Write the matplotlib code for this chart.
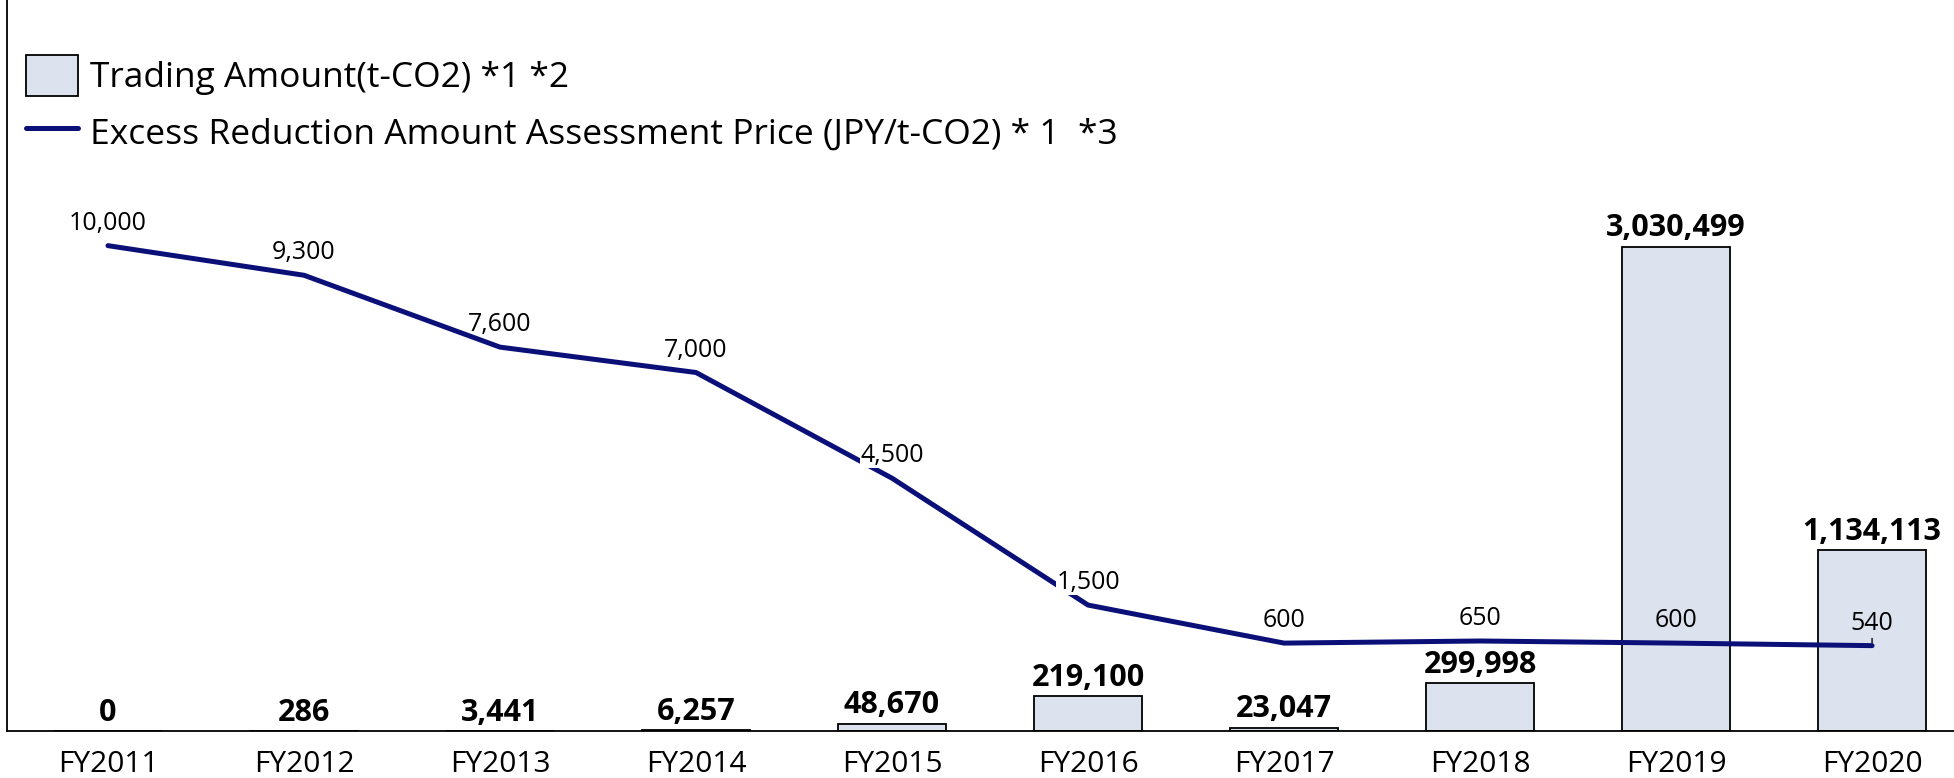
import matplotlib.pyplot as plt
import numpy as np

plt.rcParams['font.family'] = ['Open Sans', 'DejaVu Sans']

years = ["FY2011", "FY2012", "FY2013", "FY2014", "FY2015",
         "FY2016", "FY2017", "FY2018", "FY2019", "FY2020"]
trading = [0, 286, 3441, 6257, 48670, 219100, 23047, 299998, 3030499, 1134113]
price = [10000, 9300, 7600, 7000, 4500, 1500, 600, 650, 600, 540]

bar_color = "#dde3ee"
line_color = "#0b1078"

fig = plt.figure(figsize=(19.54, 7.78), dpi=100)
ax = fig.add_axes([0.0038, 0.0598, 0.9962, 0.9402])
x = np.arange(len(years))

bars = ax.bar(x, trading, width=0.555, color=bar_color, edgecolor="black", lw=1.3,
              label="Trading Amount(t-CO2) *1 *2", zorder=2)
ax.set_ylim(0, 4.573e6)
ax.set_xlim(-0.513, 9.418)
for xi, v in zip(x, trading):
    ax.annotate(f"{v:,}", (xi, v), xytext=(0, 7.5), textcoords="offset points",
                ha="center", va="baseline", fontsize=22, fontweight="bold")

ax2 = ax.twinx()
ax2.set_ylim(-1490, 15810)
ln, = ax2.plot(x, price, color=line_color, lw=3.6, solid_capstyle="round",
               label="Excess Reduction Amount Assessment Price (JPY/t-CO2) * 1  *3")
# labels on the steep part of the line knock out the line behind them
steep = {4, 5}
for i, (xi, v) in enumerate(zip(x, price)):
    kw = dict(xytext=(0, 11.5), textcoords="offset points",
              ha="center", va="baseline", fontsize=18)
    if i == len(price) - 1:
        kw["arrowprops"] = dict(arrowstyle="-", lw=1, color="black",
                                shrinkA=0, shrinkB=2)
    elif i in steep:
        kw["bbox"] = dict(fc="white", ec="none", pad=0)
    ax2.annotate(f"{v:,}", (xi, v), **kw)

for a in (ax, ax2):
    a.spines["top"].set_visible(False)
    a.spines["right"].set_visible(False)
    a.set_yticks([])
ax2.spines["left"].set_visible(False)
ax2.spines["bottom"].set_visible(False)
ax.spines["left"].set_linewidth(1.3)
ax.spines["bottom"].set_linewidth(1.3)

ax.set_xticks(x)
ax.set_xticklabels(years, fontsize=21.5)
ax.tick_params(axis="x", length=0, pad=13)

fig.legend(handles=[bars, ln], loc="upper left", bbox_to_anchor=(0.006, 0.948),
           frameon=False, fontsize=25.5, handlelength=1.47, handleheight=1.44,
           handletextpad=0.35, labelspacing=0.42, borderaxespad=0)

fig.savefig("out.png")
